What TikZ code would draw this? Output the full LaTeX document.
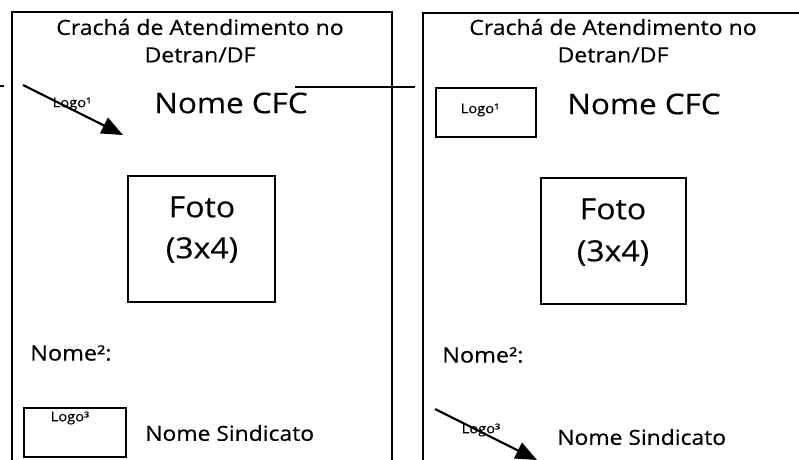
\documentclass[tikz,border=0pt]{standalone}
\usepackage{fontspec}
\newfontfamily\cf{Open Sans}[FakeStretch=1.1,FakeBold=0.4]
\usetikzlibrary{arrows.meta}
\tikzset{
  frame/.style={line width=1.7pt},
  box/.style={draw,line width=1.3pt},
  txt/.style={inner sep=0pt,font=\cf},
  titletxt/.style={txt,font=\cf\fontsize{15.7}{19}\selectfont},
  cfctxt/.style={txt,font=\cf\fontsize{21.4}{25}\selectfont},
  fototxt/.style={txt,font=\cf\fontsize{21.8}{26}\selectfont},
  nometxt/.style={txt,font=\cf\fontsize{16}{19}\selectfont,anchor=west},
  sindtxt/.style={txt,font=\cf\fontsize{15.6}{19}\selectfont,anchor=west},
  logotxt/.style={txt,font=\cf\fontsize{10}{12}\selectfont},
  bigarrow/.style={line width=1.6pt,-{Triangle[length=16pt,width=13pt]}}
}
\begin{document}
\begin{tikzpicture}[x=0.75pt,y=-0.75pt]
\useasboundingbox (0,0) rectangle (799,460);
\clip (0,0) rectangle (799,460);
% left card
\draw[frame] (12,462) -- (12,12) -- (392,12) -- (392,462);
\node[titletxt] (t1a) at (200,27) {Crachá de Atendimento no};
\node[titletxt] (t1b) at (200,55) {Detran/DF};
\node[logotxt] (lg1a) at (72,104) {Logo¹};
\node[cfctxt] (cfc1) at (231,103) {Nome CFC};
\draw[box] (128,176) rectangle (275,302);
\node[fototxt] (f1) at (202,207) {Foto};
\node[fototxt] (f1b) at (202,250) {(3x4)};
\node[nometxt] (n1) at (30,353) {Nome²:};
\draw[box] (24,408) rectangle (126,457);
\node[logotxt] (lg3a) at (70,418) {Logo³};
\node[sindtxt] (s1) at (145,433) {Nome Sindicato};
\coordinate (a1s) at (23,85);
\coordinate (a1e) at (123,135);
\draw[bigarrow] (a1s) -- (a1e);
% stray lines
\coordinate (d1a) at (0,86);
\coordinate (d1b) at (4,86);
\draw[line width=1pt] (d1a) -- (d1b);
\coordinate (l1a) at (295,87);
\coordinate (l1b) at (415,87);
\draw[line width=1pt] (l1a) -- (l1b);
% right card
\draw[frame] (423,462) -- (423,13) -- (802,13);
\node[titletxt] (t2a) at (613,27) {Crachá de Atendimento no};
\node[titletxt] (t2b) at (613,55) {Detran/DF};
\draw[box] (436,88) rectangle (536,137);
\node[logotxt] (lg1b) at (480,110) {Logo¹};
\node[cfctxt] (cfc2) at (644,104) {Nome CFC};
\draw[box] (541,178) rectangle (686,304);
\node[fototxt] (f2) at (613,209) {Foto};
\node[fototxt] (f2b) at (613,253) {(3x4)};
\node[nometxt] (n2) at (442,355) {Nome²:};
\node[logotxt] (lg3b) at (481,430) {Logo³};
\node[sindtxt] (s2) at (557,437) {Nome Sindicato};
\coordinate (a2s) at (435,409);
\coordinate (a2e) at (537,460);
\draw[bigarrow] (a2s) -- (a2e);
\end{tikzpicture}
\end{document}
